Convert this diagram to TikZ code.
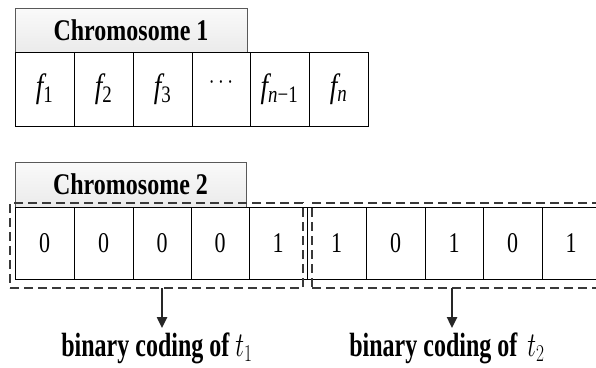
\documentclass[tikz,border=0pt]{standalone}
\usepackage{fontspec}
\usepackage{graphicx}
\setmainfont{Liberation Serif}
\usetikzlibrary{arrows.meta}
\newcommand\tallt[2][1.25]{\scalebox{1}[#1]{#2}}
\newcommand\bigmath[1]{{\fontsize{27}{30}\selectfont$#1$}}
\tikzset{
  cellbox/.style={draw=black, line width=0.8pt, inner sep=0pt, minimum height=#1,
    font=\fontsize{22}{26}\selectfont},
  fcell/.style={font=\fontsize{27}{30}\selectfont},
  headbox/.style={draw=gray!70!black, line width=0.8pt, inner sep=0pt, top color=gray!4, bottom color=gray!16,
    font=\fontsize{24}{28}\selectfont\bfseries},
  dashbox/.style={draw=gray!45!black, line width=1.3pt, dash pattern=on 9pt off 5pt, inner sep=0pt},
  arr/.style={draw=gray!30!black, line width=2.4pt, -{Triangle[length=11pt,width=10pt]}},
  lab/.style={font=\fontsize{24}{28}\selectfont\bfseries, inner sep=0pt, anchor=base}
}
\begin{document}
\begin{tikzpicture}[x=1pt,y=-1pt]
\useasboundingbox (0,0) rectangle (596,367);
\fill[white] (0,0) rectangle (596,367);
% Chromosome 1
\node[headbox, minimum width=232, minimum height=44] (h1) at (131,30) {\tallt{Chromosome 1}};
\node[cellbox=74, fcell, minimum width=59] (c11) at (44.5,89) {\tallt{\itshape f\textsubscript{\upshape 1}}};
\node[cellbox=74, fcell, minimum width=59] (c12) at (103.5,89) {\tallt{\itshape f\textsubscript{\upshape 2}}};
\node[cellbox=74, fcell, minimum width=59] (c13) at (162.5,89) {\tallt{\itshape f\textsubscript{\upshape 3}}};
\node[cellbox=74, minimum width=58] (c14) at (221,89) {\tallt{\raisebox{10pt}{$\cdots$}}};
\node[cellbox=74, fcell, minimum width=59] (c15) at (279.5,89) {\tallt{\itshape f\textsubscript{n\upshape −1}}};
\node[cellbox=74, fcell, minimum width=59] (c16) at (338.5,89) {\tallt{\itshape f\textsubscript{n}}};
% Chromosome 2
\node[headbox, minimum width=231, minimum height=45] (h2) at (130.5,184.5) {\tallt{Chromosome 2}};
\node[cellbox=72, minimum width=59] (d1) at (44.5,243) {\tallt[1.3]{0}};
\node[cellbox=72, minimum width=59] (d2) at (103.5,243) {\tallt[1.3]{0}};
\node[cellbox=72, minimum width=58] (d3) at (162,243) {\tallt[1.3]{0}};
\node[cellbox=72, minimum width=58] (d4) at (220,243) {\tallt[1.3]{0}};
\node[cellbox=72, minimum width=58] (d5) at (278,243) {\tallt[1.3]{1}};
\node[cellbox=72, minimum width=59] (d6) at (336.5,243) {\tallt[1.3]{1}};
\node[cellbox=72, minimum width=59] (d7) at (395.5,243) {\tallt[1.3]{0}};
\node[cellbox=72, minimum width=58] (d8) at (454,243) {\tallt[1.3]{1}};
\node[cellbox=72, minimum width=59] (d9) at (512.5,243) {\tallt[1.3]{0}};
\node[cellbox=72, minimum width=58] (d10) at (571,243) {\tallt[1.3]{1}};
% dashed groups
\node[dashbox, minimum width=293, minimum height=85] (g1) at (156.5,245.5) {};
\node[dashbox, minimum width=298, minimum height=85] (g2) at (461,245.5) {};
% labels
\node[lab] (l1) at (157,356) {\tallt[1.4]{binary coding of \bigmath{t_1}}};
\node[lab] (l2) at (447,356) {\tallt[1.4]{binary coding of\, \bigmath{t_2}}};
\coordinate (a1) at (162,288);
\coordinate (a2) at (452,288);
\coordinate (e1) at (162,328);
\coordinate (e2) at (452,328);
\draw[arr] (a1) -- (e1);
\draw[arr] (a2) -- (e2);
\end{tikzpicture}
\end{document}
